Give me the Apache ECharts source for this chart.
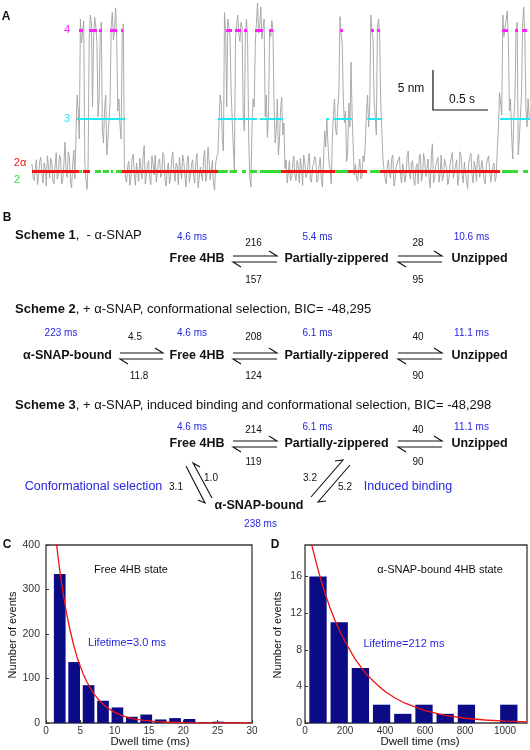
<!DOCTYPE html>
<html><head><meta charset="utf-8">
<script src="https://cdn.jsdelivr.net/npm/echarts@6/dist/echarts.min.js"></script>
<style>html,body{margin:0;padding:0;background:#fff}#c{width:530px;height:750px}</style>
</head><body><div id="c"></div>
<script>
const FONT = '"Liberation Sans", Arial, Helvetica, sans-serif';

// ---------- Panel A: extension trace (nm), samples every 20 ms, plus mid samples at +10 ms ----------
const traceStepMs = 20;
const traceNm = [
  0.9,-1.2,1.4,-0.6,1.7,-1.5,0.4,1.9,-0.9,1.1,-1.6,2.3,-0.4,1.5,-1.1,3.6,-0.8,1.8,-2.1,2.6,
  4.5,7.5,19.0,17.2,1.0,-2.3,16.5,18.5,16.8,18.0,6.8,17.0,5.0,7.8,2.0,6.2,18.2,16.4,20.4,7.5,5.6,17.0,
  0.5,-1.4,1.2,-0.7,2.1,-1.8,0.8,1.6,-1.0,3.2,-0.5,1.3,-1.7,0.9,2.0,-1.2,1.5,-0.3,1.8,-1.9,
  1.0,-0.8,2.4,-1.3,0.6,1.7,-1.0,1.2,-2.0,1.9,-0.6,1.4,-1.5,2.2,-0.9,0.7,1.6,-1.3,3.0,-1.1,1.3,-2.4,1.8,
  6.0,8.5,2.5,17.5,19.0,16.8,6.5,0.0,18.2,17.0,18.6,7.0,17.4,16.0,-0.8,5.5,8.0,18.5,17.2,20.5,17.8,6.8,4.2,17.5,18.8,8.5,5.0,2.0,7.8,4.5,
  0.3,-1.5,1.3,-0.8,1.9,-1.2,0.6,1.6,-1.8,1.1,-0.4,2.2,-1.4,0.9,1.5,-1.0,1.7,-2.0,5.0,
  6.5,1.0,-1.6,7.0,5.2,8.0,19.3,16.0,6.0,1.2,8.5,13.6,3.0,
  0.8,-1.3,1.5,-0.6,1.2,
  7.2,5.5,19.5,16.5,6.8,18.0,17.2,5.0,
  0.2,-1.6,1.4,-0.9,2.0,-1.2,0.7,1.8,-1.5,1.1,-0.5,2.5,-1.0,1.3,-1.8,0.9,1.7,-1.3,2.2,-0.7,
  1.5,-2.1,3.4,-0.9,1.2,-1.4,2.0,-0.8,1.6,-1.7,0.8,2.3,-1.1,1.4,-0.6,1.9,-1.5,1.0,-2.2,1.7,
  -0.4,1.2,-1.3,2.1,-0.9,1.5,-1.6,0.6,1.8,-1.2,1.0,-0.7,
  5.5,8.5,19.5,18.0,20.0,7.5,4.5,6.8,17.5,2.0,7.0,18.5,17.0,5.5,6.5
];
const traceNmMid = [
  -0.8,0.3,-1.7,1.2,-0.3,1.0,-1.9,0.6,1.6,-1.3,0.5,-1.0,2.0,-1.6,0.9,-0.2,2.4,-1.4,0.8,-1.0,
  9.5,4.0,16.0,18.8,-1.0,0.8,19.5,8.0,19.2,16.2,9.0,18.6,3.5,9.5,4.0,8.8,19.8,17.5,16.5,9.0,4.0,18.4,
  -0.9,0.6,-1.8,1.5,-0.4,1.0,-1.3,0.2,1.8,-1.6,0.7,-0.9,1.9,-0.5,-1.4,1.1,-0.8,2.3,-1.2,0.4,
  -1.6,1.5,-0.2,1.0,-1.7,0.3,2.0,-0.6,1.1,-1.4,0.9,-0.8,1.3,-2.1,0.5,-1.2,2.6,-0.4,1.2,0.1,-1.7,1.0,2.2,
  9.5,4.0,19.8,8.0,18.0,10.0,3.0,16.5,19.5,16.2,18.0,5.0,19.0,4.0,-2.0,9.0,16.0,21.0,18.0,16.5,19.0,9.5,7.0,16.8,17.8,3.5,9.0,4.0,9.2,6.0,
  1.4,-0.2,-1.2,0.9,-0.6,1.3,-1.5,0.4,2.0,-0.8,1.0,-1.1,0.5,1.8,-1.4,0.7,-0.9,1.2,3.0,
  3.5,0.2,4.0,9.0,4.5,10.0,17.0,9.0,7.5,2.5,5.5,7.0,-0.5,
  -0.9,0.4,-1.0,1.9,3.5,
  9.5,8.0,17.5,9.0,4.5,19.0,8.5,1.5,
  -1.0,0.7,-0.4,1.6,-1.9,0.5,1.4,-0.7,0.9,-1.4,1.8,-0.2,1.0,-1.1,0.4,-1.6,2.1,-0.5,1.2,0.3,
  -1.0,1.9,-1.5,0.6,1.7,-0.3,-1.2,1.5,0.2,-1.0,1.6,-0.9,0.7,-1.8,2.4,-0.4,1.1,-1.2,0.9,2.2,
  -1.5,0.5,1.6,-0.8,1.3,-1.1,0.8,1.9,-1.4,0.6,-1.3,2.8,
  9.8,7.0,16.8,18.8,16.5,9.0,1.5,9.0,18.6,4.0,9.5,20.5,8.0,9.0
];
// state levels (nm)
const level2 = 0, level3 = 6.5, level4 = 17.625;
// state dwell segments [start ms, end ms]
const seg2a = [[0,427],[464,527],[818,1691],[2264,2755],[2873,3045],[3164,4255]];
const seg2  = [[427,455],[573,627],[645,700],[718,736],[764,818],[1691,1780],[1795,1864],[1909,1945],[1982,2045],[2073,2264],[2755,2873],[3073,3164],[4273,4418],[4464,4509]];
const seg3  = [[409,845],[1691,1864],[1873,2045],[2073,2282],[2673,2700],[2736,2909],[3045,3182],[4255,4527]];
const seg4  = [[427,464],[518,591],[609,636],[709,773],[809,827],[1764,1818],[1845,1900],[1927,1955],[2027,2100],[2155,2191],[2800,2827],[3082,3109],[3136,3164],[4273,4327],[4391,4418],[4455,4500]];
const scaleBarMs = 500, scaleBarNm = 5;

// ---------- Panel C: Free 4HB dwell times ----------
const cBinMs = [2.0,4.1,6.2,8.3,10.4,12.5,14.6,16.7,18.8,20.9,23.0,25.1,27.2];
const cCounts = [335,137,85,50,35,14,19,8,11,9,1,3,2];
const cFitMs = [1.4,1.75,2,2.25,2.5,2.75,3,3.5,4,4.5,5,5.5,6,7,8,9,10,11,12,13,14,16,18,20,23,26,30];
const cFitN  = [420,374,344,316,291,268,246,209,177,149,127,107,91,65,46.6,33.4,23.9,17.1,12.3,8.8,6.3,3.2,1.66,0.85,0.31,0.12,0.03];

// ---------- Panel D: alpha-SNAP-bound dwell times ----------
const dBinMs = [65,171,277,383,489,595,701,807,913,1019];
const dCounts = [16,11,6,2,1,2,1,2,0,2];
const dFitMs = [25,40,60,80,100,125,150,175,200,250,300,350,400,450,500,600,700,800,900,1000,1110];
const dFitN  = [20.3,18.9,17.2,15.6,14.2,12.6,11.2,10.0,8.9,7.0,5.5,4.4,3.45,2.73,2.16,1.35,0.84,0.52,0.33,0.20,0.12];

const BLUE = '#2626e0', MAG = '#ff22ff', CYAN = '#22e6f0', RED = '#ee1515', GREEN = '#33dd33', NAVY = '#0b0b86';

function segLines(segs, lvl){ return segs.map(s => ({coords: [[s[0], lvl],[s[1], lvl]]})); }
function traceData(){
  const out = [];
  traceNm.forEach((v,i) => {
    out.push([i*traceStepMs, v]);
    if (i < traceNmMid.length) out.push([i*traceStepMs + traceStepMs/2, traceNmMid[i]]);
  });
  return out;
}

const chart = echarts.init(document.getElementById('c'), null, {renderer:'canvas'});

function txt(text, x, y, opt){
  opt = opt || {};
  return {type:'text', x:x, y:y, rotation: opt.rot || 0, z:100,
    style:{text:text, x:0, y:0, fill: opt.color || '#111',
      font: (opt.bold ? 'bold ' : '') + (opt.size || 10) + 'px ' + FONT,
      textAlign: opt.align || 'center', align: opt.align || 'center',
      textVerticalAlign:'middle', verticalAlign:'middle', rich: opt.rich}};
}
function harpPair(x0, x1, y){
  return [
    {type:'polyline', z:100, shape:{points:[[x0,y-3],[x1,y-3],[x1-8,y-8]]}, style:{stroke:'#111', lineWidth:1.1, fill:null}},
    {type:'polyline', z:100, shape:{points:[[x1,y+3],[x0,y+3],[x0+8,y+8]]}, style:{stroke:'#111', lineWidth:1.1, fill:null}}
  ];
}
function pl(points){ return {type:'polyline', z:100, shape:{points:points}, style:{stroke:'#111', lineWidth:1.1, fill:null}}; }

const HS = 13;
const headRich = {b:{fontWeight:'bold', fontSize:HS, fontFamily:FONT, fill:'#111'}};
const graphics = [
  txt('A', 6, 17, {bold:true, size:12}),
  txt('4', 67, 30, {color:MAG, size:11}),
  txt('3', 67, 119, {color:CYAN, size:11}),
  txt('2α', 20, 163, {color:RED, size:11}),
  txt('2', 17, 180, {color:GREEN, size:11}),
  txt('5 nm', 411, 89, {size:12}),
  txt('0.5 s', 462, 100, {size:12}),
  txt('B', 7, 218, {bold:true, size:12}),
  txt('{b|Scheme 1},  - α-SNAP', 15, 235, {size:HS, align:'left', rich:headRich}),
  txt('{b|Scheme 2}, + α-SNAP, conformational selection, BIC= -48,295', 15, 309, {size:HS, align:'left', rich:headRich}),
  txt('{b|Scheme 3}, + α-SNAP, induced binding and conformational selection, BIC= -48,298', 15, 405, {size:HS, align:'left', rich:headRich}),
  // names
  txt('Free 4HB', 197, 259, {bold:true, size:12.5}),
  txt('Partially-zippered', 336.5, 259, {bold:true, size:12.5}),
  txt('Unzipped', 479.5, 259, {bold:true, size:12.5}),
  txt('α-SNAP-bound', 67.5, 356, {bold:true, size:12.5}),
  txt('Free 4HB', 197, 356, {bold:true, size:12.5}),
  txt('Partially-zippered', 336.5, 356, {bold:true, size:12.5}),
  txt('Unzipped', 479.5, 356, {bold:true, size:12.5}),
  txt('Free 4HB', 197, 444, {bold:true, size:12.5}),
  txt('Partially-zippered', 336.5, 444, {bold:true, size:12.5}),
  txt('Unzipped', 479.5, 444, {bold:true, size:12.5}),
  txt('α-SNAP-bound', 259, 506, {bold:true, size:12.5}),
  // lifetimes
  txt('4.6 ms', 192, 237, {color:BLUE}), txt('5.4 ms', 317.5, 237, {color:BLUE}), txt('10.6 ms', 471.5, 237, {color:BLUE}),
  txt('223 ms', 61, 333, {color:BLUE}), txt('4.6 ms', 192, 333, {color:BLUE}), txt('6.1 ms', 317.5, 333, {color:BLUE}), txt('11.1 ms', 471.5, 333, {color:BLUE}),
  txt('4.6 ms', 192, 427, {color:BLUE}), txt('6.1 ms', 317.5, 427, {color:BLUE}), txt('11.1 ms', 471.5, 427, {color:BLUE}),
  txt('238 ms', 260.5, 524, {color:BLUE}),
  // rates
  txt('216', 253.5, 243), txt('157', 253.5, 280), txt('28', 418, 243), txt('95', 418, 280),
  txt('4.5', 135, 337), txt('11.8', 139, 376), txt('208', 253.5, 337), txt('124', 253.5, 376), txt('40', 418, 337), txt('90', 418, 376),
  txt('214', 253.5, 430), txt('119', 253.5, 462), txt('40', 418, 430), txt('90', 418, 462),
  txt('1.0', 211, 478), txt('3.1', 176, 487), txt('3.2', 310, 478), txt('5.2', 345, 487),
  txt('Conformational selection', 93.5, 487, {color:BLUE, size:12.5}),
  txt('Induced binding', 408, 487, {color:BLUE, size:12.5}),
  // diagonal harpoons
  pl([[186,466],[205,503],[198,500]]),
  pl([[200,467],[193,463],[212,498]]),
  pl([[311,497],[343,460],[335,461]]),
  pl([[326,501],[318,502],[350,465]]),
  // panels C, D
  txt('C', 7, 545, {bold:true, size:12}),
  txt('D', 275, 545, {bold:true, size:12}),
  txt('Free 4HB state', 131, 570, {size:11}),
  txt('Lifetime=3.0 ms', 127, 643, {size:11, color:BLUE}),
  txt('α-SNAP-bound 4HB state', 440, 570, {size:11}),
  txt('Lifetime=212 ms', 404, 644, {size:11, color:BLUE}),
  txt('Number of events', 13, 635, {size:11, rot:Math.PI/2}),
  txt('Number of events', 278, 635, {size:11, rot:Math.PI/2}),
  txt('Dwell time (ms)', 150, 742, {size:11.5}),
  txt('Dwell time (ms)', 420, 742, {size:11.5})
].concat(harpPair(233,277,259), harpPair(398,442,259),
         harpPair(120,163,356), harpPair(233,277,356), harpPair(398,442,356),
         harpPair(233,277,444), harpPair(398,442,444));

function histAxisX(gi, min, max, interval){
  return {gridIndex:gi, type:'value', min:min, max:max, interval:interval,
    axisLine:{show:false}, splitLine:{show:false},
    axisTick:{inside:true, length:3, lineStyle:{color:'#333'}},
    axisLabel:{fontSize:10, color:'#333', margin:3, fontFamily:FONT, showMaxLabel: max % interval === 0,
      formatter: v => String(v)}};
}
function histAxisY(gi, min, max, interval, margin){
  return {gridIndex:gi, type:'value', min:min, max:max, interval:interval,
    axisLine:{show:false}, splitLine:{show:false},
    axisTick:{inside:true, length:3, lineStyle:{color:'#333'}},
    axisLabel:{fontSize:10.5, color:'#333', margin:margin, fontFamily:FONT, showMaxLabel: max % interval === 0,
      formatter: v => String(v)}};
}

const option = {
  animation:false,
  backgroundColor:'#fff',
  grid:[
    {left:32, top:0, width:498, height:195},
    {left:46, top:545, width:206, height:178, show:true, borderColor:'#3a3a3a', borderWidth:1.3},
    {left:305, top:545, width:222, height:178, show:true, borderColor:'#3a3a3a', borderWidth:1.3}
  ],
  xAxis:[
    {gridIndex:0, type:'value', min:0, max:4527, show:false},
    histAxisX(1, 0, 30, 5),
    histAxisX(2, 0, 1110, 200)
  ],
  yAxis:[
    {gridIndex:0, type:'value', min:-3, max:21.375, show:false},
    histAxisY(1, 0, 400, 100, 6),
    histAxisY(2, 0, 19.45, 4, 3)
  ],
  series:[
    {type:'line', xAxisIndex:0, yAxisIndex:0, showSymbol:false, silent:true,
     data: traceData(),
     lineStyle:{color:'#a2a2a2', width:0.9}, z:1},
    {type:'lines', coordinateSystem:'cartesian2d', xAxisIndex:0, yAxisIndex:0, data:segLines(seg3, level3), lineStyle:{color:CYAN, width:2, opacity:1}, z:3},
    {type:'lines', coordinateSystem:'cartesian2d', xAxisIndex:0, yAxisIndex:0, data:segLines(seg4, level4), lineStyle:{color:MAG, width:3, opacity:1}, z:3},
    {type:'lines', coordinateSystem:'cartesian2d', xAxisIndex:0, yAxisIndex:0, data:segLines(seg2a, level2), lineStyle:{color:RED, width:3, opacity:1}, z:3},
    {type:'lines', coordinateSystem:'cartesian2d', xAxisIndex:0, yAxisIndex:0, data:segLines(seg2, level2), lineStyle:{color:GREEN, width:3, opacity:1}, z:3},
    {type:'lines', coordinateSystem:'cartesian2d', xAxisIndex:0, yAxisIndex:0,
     data:[{coords:[[3645, 7.625+scaleBarNm],[3645, 7.625],[3645+scaleBarMs, 7.625]]}], polyline:true,
     lineStyle:{color:'#111', width:1.2, opacity:1}, z:3},
    {type:'bar', xAxisIndex:1, yAxisIndex:1, data:cBinMs.map((x,i)=>[x,cCounts[i]]), barWidth:11.7, itemStyle:{color:NAVY}, z:2},
    {type:'line', xAxisIndex:1, yAxisIndex:1, data:cFitMs.map((x,i)=>[x,cFitN[i]]), smooth:false, showSymbol:false, clip:true, lineStyle:{color:RED, width:1.3}, z:4},
    {type:'bar', xAxisIndex:2, yAxisIndex:2, data:dBinMs.map((x,i)=>[x,dCounts[i]]), barWidth:17.3, itemStyle:{color:NAVY}, z:2},
    {type:'line', xAxisIndex:2, yAxisIndex:2, data:dFitMs.map((x,i)=>[x,dFitN[i]]), smooth:false, showSymbol:false, clip:true, lineStyle:{color:RED, width:1.3}, z:4}
  ],
  graphic: graphics
};
chart.setOption(option);
</script></body></html>
